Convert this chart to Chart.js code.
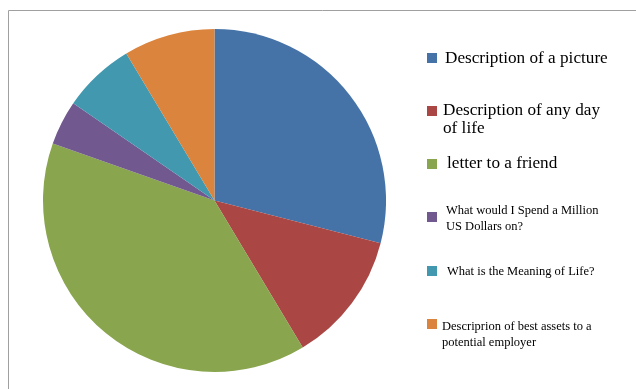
<!DOCTYPE html>
<html>
<head>
<meta charset="utf-8">
<script src="https://cdn.jsdelivr.net/npm/chart.js@4.4.1/dist/chart.umd.min.js"></script>
<style>
  html, body { margin: 0; padding: 0; background: #fff; }
  #wrap { width: 636px; height: 389px; position: relative; }
</style>
</head>
<body>
<div id="wrap"><canvas id="chart" width="636" height="389"></canvas></div>
<script>
// Share of writing topics
const topics = [
  ["Description of a picture"],
  ["Description of any day", "of life"],
  ["letter to a friend"],
  ["What would I Spend a Million", "US Dollars on?"],
  ["What is the Meaning of Life?"],
  ["Descriprion of best assets to a", "potential employer"],
];
const shares = [29, 12.4, 39, 4.2, 6.8, 8.6];
const colors = ["#4572A7", "#AA4643", "#89A54E", "#71588F", "#4198AF", "#DB843D"];

// legend layout: box top, text x, first baseline, font size, line gap
const legendRows = [
  { box: 53, tx: 445, base: 63, size: 17.2, gap: 18 },
  { box: 106, tx: 443, base: 115, size: 17.2, gap: 18 },
  { box: 159, tx: 447, base: 168, size: 17.2, gap: 18 },
  { box: 212, tx: 446, base: 214, size: 12.5, gap: 16 },
  { box: 266, tx: 447, base: 275, size: 12.5, gap: 16 },
  { box: 319, tx: 442, base: 330, size: 12.5, gap: 16 },
];

const framePlugin = {
  id: "frame",
  beforeDraw(chart) {
    const ctx = chart.ctx;
    ctx.save();
    ctx.strokeStyle = "#a0a0a0";
    ctx.lineWidth = 1;
    ctx.beginPath();
    ctx.moveTo(8.5, 389);
    ctx.lineTo(8.5, 10.5);
    ctx.lineTo(636, 10.5);
    ctx.stroke();
    ctx.restore();
  },
};

const sideLegend = {
  id: "sideLegend",
  afterDraw(chart) {
    const ctx = chart.ctx;
    ctx.save();
    legendRows.forEach((row, i) => {
      ctx.fillStyle = colors[i];
      ctx.fillRect(427, row.box, 10, 10);
      ctx.fillStyle = "#000";
      ctx.font = row.size + 'px "Liberation Serif", "Times New Roman", serif';
      ctx.textBaseline = "alphabetic";
      topics[i].forEach((line, j) => ctx.fillText(line, row.tx, row.base + j * row.gap));
    });
    ctx.restore();
  },
};

new Chart(document.getElementById("chart"), {
  type: "pie",
  data: {
    labels: topics.map((t) => t.join(" ")),
    datasets: [{ data: shares, backgroundColor: colors, borderWidth: 0 }],
  },
  options: {
    responsive: false,
    animation: false,
    layout: { padding: { left: 43, top: 29, right: 250, bottom: 17 } },
    plugins: { legend: { display: false }, tooltip: { enabled: false } },
  },
  plugins: [framePlugin, sideLegend],
});
</script>
</body>
</html>
